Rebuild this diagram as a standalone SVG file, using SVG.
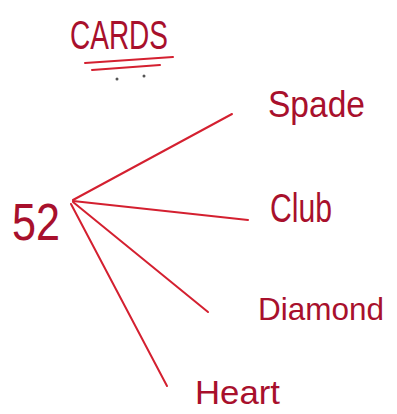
<svg xmlns="http://www.w3.org/2000/svg" width="397" height="414" viewBox="0 0 397 414">
<style>
.t{font-family:"Liberation Sans","DejaVu Sans",sans-serif;fill:#a8102c;}
.ln{stroke:#d42030;stroke-width:2;fill:none;stroke-linecap:round;}
</style>
<rect width="397" height="414" fill="#ffffff"/>
<g id="title">
<text class="t" x="70" y="49" font-size="40" textLength="98" lengthAdjust="spacingAndGlyphs">CARDS</text>
<path class="ln" d="M85 63 L173 57 M92 70 L160 65"/>
<circle cx="117" cy="79" r="1.5" fill="#555"/>
<circle cx="144" cy="76" r="1.5" fill="#555"/>
</g>
<g id="n52"><text class="t" x="12" y="240" font-size="52" textLength="48" lengthAdjust="spacingAndGlyphs">52</text></g>
<g id="spade"><text class="t" x="268" y="117" font-size="36" textLength="97" lengthAdjust="spacingAndGlyphs">Spade</text></g>
<g id="club"><text class="t" x="270" y="222" font-size="40" textLength="62" lengthAdjust="spacingAndGlyphs">Club</text></g>
<g id="diamond"><text class="t" x="258" y="320" font-size="32" textLength="126" lengthAdjust="spacingAndGlyphs">Diamond</text></g>
<g id="heart"><text class="t" x="195" y="404" font-size="34" textLength="85" lengthAdjust="spacingAndGlyphs">Heart</text></g>
<g id="connectors">
<path class="ln" d="M73 200 L232 114"/>
<path class="ln" d="M73 201 L248 220"/>
<path class="ln" d="M73 202 L208 312"/>
<path class="ln" d="M71 204 L167 386"/>
</g>
</svg>
